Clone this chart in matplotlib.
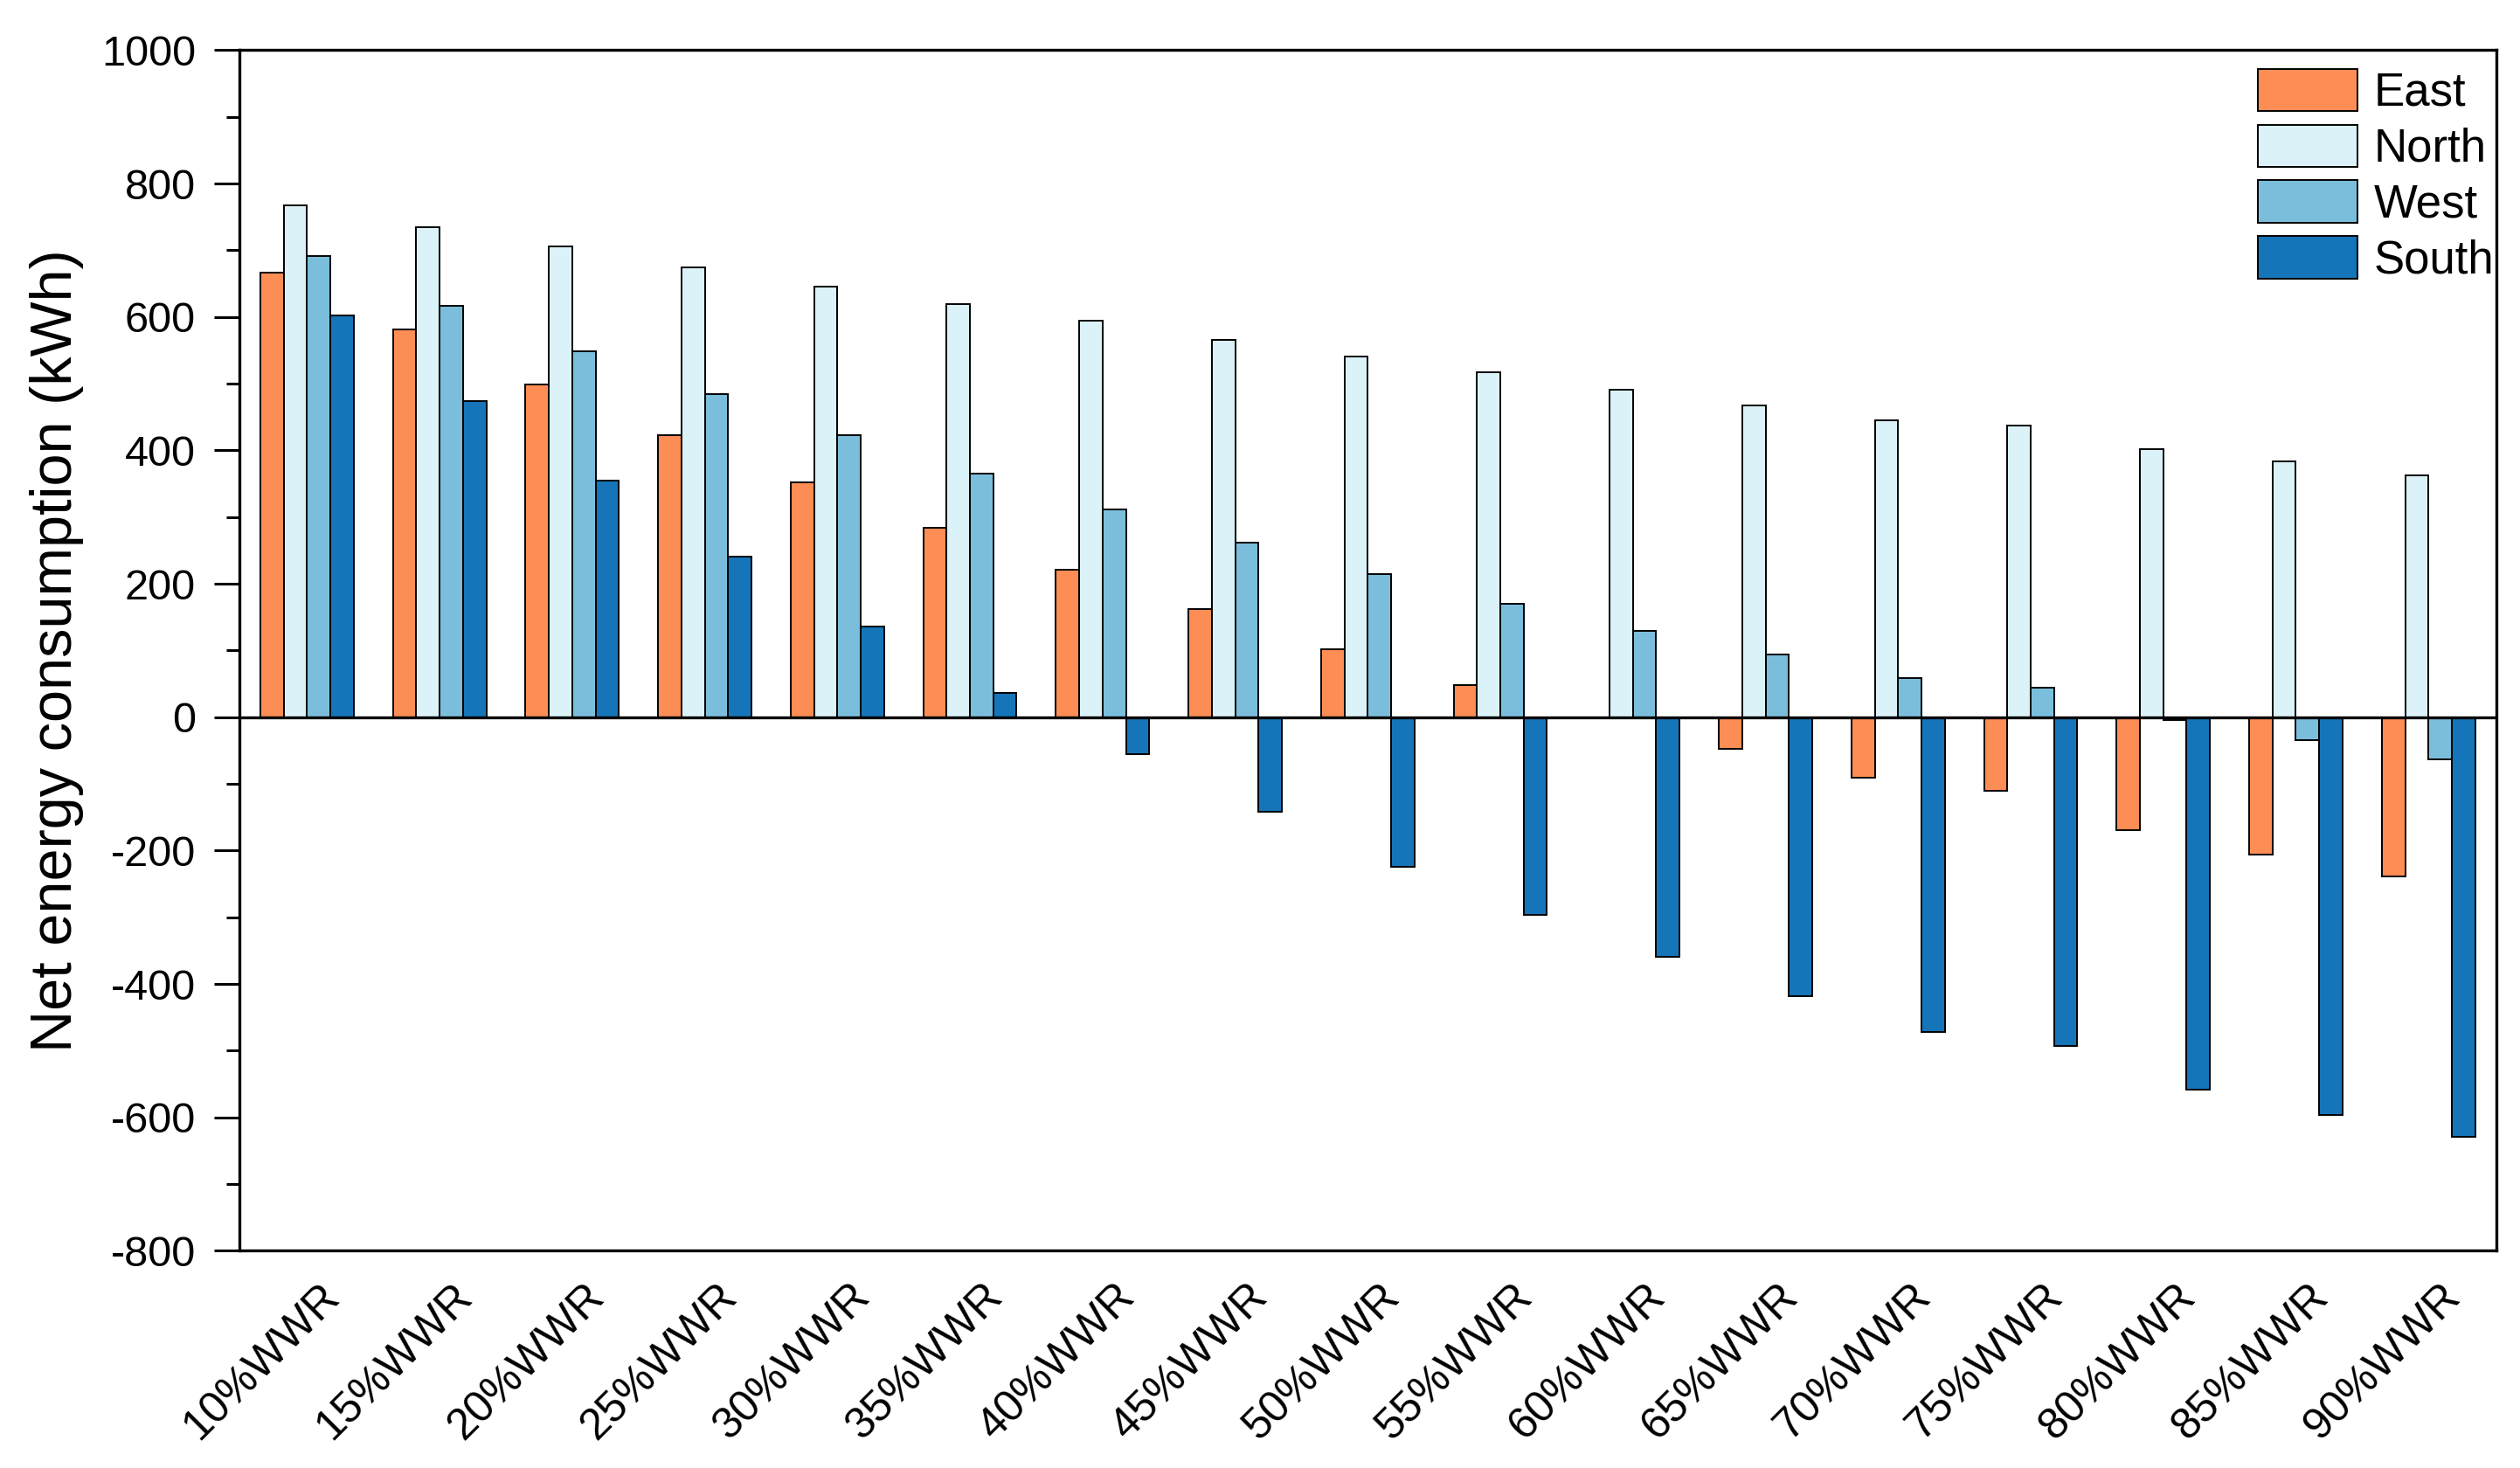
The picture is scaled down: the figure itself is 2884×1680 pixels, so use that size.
import matplotlib
matplotlib.use("Agg")
import matplotlib.pyplot as plt
import matplotlib.transforms as mtransforms
import numpy as np
from matplotlib.ticker import MultipleLocator

categories = ["10%WWR", "15%WWR", "20%WWR", "25%WWR", "30%WWR", "35%WWR", "40%WWR",
              "45%WWR", "50%WWR", "55%WWR", "60%WWR", "65%WWR", "70%WWR", "75%WWR",
              "80%WWR", "85%WWR", "90%WWR"]
east = [667, 581, 499, 423, 352, 284, 221, 162, 102, 48, 0, -48, -91, -110, -169, -206, -239]
north = [767, 735, 706, 674, 645, 620, 595, 566, 541, 517, 491, 467, 445, 437, 402, 383, 363]
west = [691, 617, 548, 484, 423, 365, 312, 262, 215, 170, 130, 94, 59, 44, -4, -35, -63]
south = [602, 474, 355, 241, 136, 36, -56, -142, -225, -296, -359, -418, -472, -493, -559, -596, -629]
series_names = ["East", "North", "West", "South"]
colors = ["#FC8D54", "#DAF2F8", "#7BBEDC", "#1675B8"]

plt.rcParams['font.family'] = ['Liberation Sans', 'DejaVu Sans']
plt.rcParams['axes.unicode_minus'] = False

fig = plt.figure(figsize=(28.84, 16.8), dpi=100)
ax = fig.add_axes([0.095, 0.148, 0.8955, 0.8178])

x = np.arange(len(categories))
w = 0.176
data = [east, north, west, south]
for i, (vals, name, c) in enumerate(zip(data, series_names, colors)):
    ax.bar(x + (i - 1.5) * w, vals, width=w, color=c, edgecolor='black',
           linewidth=1.4, label=name, zorder=2)

ax.axhline(0, color='black', linewidth=2.4, zorder=3)

ax.set_xlim(-0.51, len(categories) - 0.49)
ax.set_ylim(-800, 1000)
ax.yaxis.set_major_locator(MultipleLocator(200))
ax.yaxis.set_minor_locator(MultipleLocator(100))
ax.tick_params(axis='y', which='major', direction='out', length=21, width=2.2,
               labelsize=35, pad=15)
ax.tick_params(axis='y', which='minor', direction='out', length=11, width=2.2)
ax.tick_params(axis='x', which='both', length=0, labelsize=36, pad=21)

ax.set_xticks(x)
ax.set_xticklabels(categories, rotation=45, ha='right', va='top')
offset = mtransforms.ScaledTranslation(0.46, 0, fig.dpi_scale_trans)
for lab in ax.get_xticklabels():
    lab.set_transform(lab.get_transform() + offset)

for sp in ax.spines.values():
    sp.set_linewidth(2.4)

ax.set_ylabel("Net energy consumption (kWh)", fontsize=48)
ax.yaxis.set_label_coords(-0.069, 0.5)

leg = ax.legend(loc='upper right', bbox_to_anchor=(1.0, 0.9865), frameon=False,
                fontsize=38, handlelength=2.16, handleheight=1.04, labelspacing=0.2,
                handletextpad=0.34, borderpad=0, borderaxespad=0.05)

fig.savefig("out.png", dpi=100)
